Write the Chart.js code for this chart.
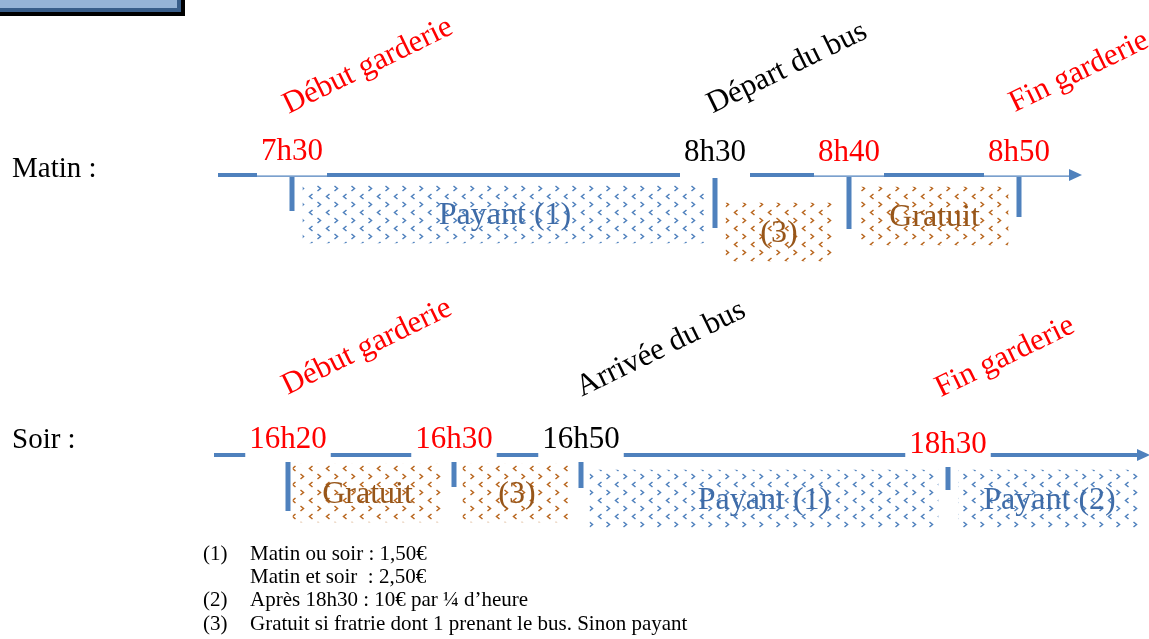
<!DOCTYPE html>
<html>
<head>
<meta charset="utf-8">
<script src="https://cdn.jsdelivr.net/npm/chart.js@4.4.1/dist/chart.umd.min.js"></script>
<style>
  html, body { margin: 0; padding: 0; background: #fff; }
  #cadre { width: 1149px; height: 639px; position: relative; }
</style>
</head>
<body>
<div id="cadre"><canvas id="frise"></canvas></div>
<script>
// Frise schématique : 1 unité sur l'axe horizontal ~ 10 px (non proportionnel au temps)
const lignes = ["Matin :", "Soir :"];

const heuresMatin = ["7h30", "8h30", "8h40", "8h50"];
const reperesMatin = [29.2, 71.5, 84.9, 101.9];
const etendueMatin = [21.8, 108.2];

const heuresSoir = ["16h20", "16h30", "16h50", "18h30"];
const reperesSoir = [28.8, 45.4, 58.1, 94.8];
const etendueSoir = [21.4, 115.0];

// Plages (Payant / Gratuit)
const plagesMatin = ["Payant (1)", "(3)", "Gratuit"];
const debutsMatin = [30.3, 72.6, 86.1];
const finsMatin = [70.7, 83.2, 100.8];
const typesMatin = ["payant", "gratuit", "gratuit"];

const plagesSoir = ["Gratuit", "(3)", "Payant (1)", "Payant (2)"];
const debutsSoir = [29.3, 46.3, 59.0, 95.9];
const finsSoir = [44.2, 57.1, 93.8, 114.0];
const typesSoir = ["gratuit", "gratuit", "payant", "payant"];

// Événements (texte incliné) et repère auquel ils se rattachent
const evenementsMatin = ["Début garderie", "Départ du bus", "Fin garderie"];
const evenementsMatinRepere = [0, 1, 3];
const evenementsSoir = ["Début garderie", "Arrivée du bus", "Fin garderie"];
const evenementsSoirRepere = [0, 2, 3];

const notesNumeros = ["(1)", "", "(2)", "(3)"];
const notesTextes = [
  "Matin ou soir : 1,50€",
  "Matin et soir  : 2,50€",
  "Après 18h30 : 10€ par ¼ d’heure",
  "Gratuit si fratrie dont 1 prenant le bus. Sinon payant"
];

const BLEU = "#4F81BD";
const ROUGE = "#FF0000";
const SERIF = "'Liberation Serif', 'Times New Roman', serif";

function motif(couleur) {
  const c = document.createElement("canvas");
  c.width = 17; c.height = 16;
  const g = c.getContext("2d");
  g.fillStyle = "#fff";
  g.fillRect(0, 0, 17, 16);
  g.strokeStyle = couleur;
  g.lineWidth = 1.5;
  g.beginPath(); g.moveTo(6.5, 2); g.lineTo(3.5, 4.5); g.lineTo(6.5, 7); g.stroke();
  g.beginPath(); g.moveTo(11.5, 10); g.lineTo(14.5, 12.5); g.lineTo(11.5, 15); g.stroke();
  return g.createPattern(c, "repeat");
}
const motifs = { payant: motif(BLEU), gratuit: motif("#B8661E") };
const couleursTexte = { payant: "#3F6CA8", gratuit: "#97561A" };

const donneesMatin = plagesMatin.map((p, i) => ({ x: [debutsMatin[i], finsMatin[i]], y: 1 }));
const donneesSoir = plagesSoir.map((p, i) => ({ x: [debutsSoir[i], finsSoir[i]], y: 2 }));

// styles des deux lignes
const styleLignes = [
  {
    heures: heuresMatin, reperes: reperesMatin, etendue: etendueMatin, plages: plagesMatin, types: typesMatin,
    couleursHeures: [ROUGE, "#000", ROUGE, ROUGE], sousLigne: [true, false, true, true], finFine: true,
    ecartAxe: 39, baseLibelle: 2,
    traits: [[2, 36], [3, 53], [2, 54], [2, 42]], hautTexte: [15, 14, 14, 14],
    evenements: evenementsMatin, evtRepere: evenementsMatinRepere, evtCouleurs: [ROUGE, "#000", ROUGE],
    evtDecal: [[76, -109], [72, -107], [60, -103]], decalages: [0, 18, 2]
  },
  {
    heures: heuresSoir, reperes: reperesSoir, etendue: etendueSoir, plages: plagesSoir, types: typesSoir,
    couleursHeures: [ROUGE, ROUGE, "#000", ROUGE], sousLigne: [false, false, false, false], finFine: false,
    ecartAxe: 41, baseLibelle: -7,
    traits: [[7, 56], [7, 32], [7, 33], [12, 35]], hautTexte: [7, 7, 7, 2],
    evenements: evenementsSoir, evtRepere: evenementsSoirRepere, evtCouleurs: [ROUGE, "#000", ROUGE],
    evtDecal: [[79, -108], [80, -106], [57, -98]], decalages: [-3, -3, 3, 3]
  }
];

const schema = {
  id: "schema",
  afterDatasetsUpdate(chart) {
    // petits décalages verticaux des plages
    chart.data.datasets.forEach((ds, d) => {
      chart.getDatasetMeta(d).data.forEach((el, i) => { el.y += styleLignes[d].decalages[i]; });
    });
  },
  beforeDatasetsDraw(chart) {
    const ctx = chart.ctx;
    const xs = chart.scales.x, ys = chart.scales.y;
    ctx.save();
    // cartouche en haut à gauche
    ctx.fillStyle = "#000"; ctx.fillRect(0, 0, 185, 16);
    ctx.fillStyle = "#385D8A"; ctx.fillRect(0, 0, 181, 12);
    ctx.fillStyle = "#95B3D7"; ctx.fillRect(0, 0, 177, 8);

    styleLignes.forEach((st, r) => {
      const yAxe = ys.getPixelForValue(r + 1) - st.ecartAxe;
      // libellé de ligne
      ctx.font = "29px " + SERIF;
      ctx.fillStyle = "#000";
      ctx.textAlign = "left";
      ctx.textBaseline = "alphabetic";
      ctx.fillText(lignes[r], 12, yAxe + st.baseLibelle);

      // heures et trous dans la ligne
      ctx.font = "31px " + SERIF;
      const trous = st.heures.map((h, i) => {
        const cx = xs.getPixelForValue(st.reperes[i]);
        const w = ctx.measureText(h).width;
        return [cx - w / 2 - 4, cx + w / 2 + 4, cx];
      });
      const x0 = xs.getPixelForValue(st.etendue[0]);
      const x1 = xs.getPixelForValue(st.etendue[1]);
      ctx.strokeStyle = BLEU;
      ctx.lineWidth = 4;
      let debut = x0;
      trous.forEach((t, i) => {
        if (debut !== null) {
          ctx.beginPath(); ctx.moveTo(debut, yAxe); ctx.lineTo(t[0], yAxe); ctx.stroke();
        }
        debut = (st.finFine && i === trous.length - 1) ? null : t[1];
      });
      if (debut !== null) {
        ctx.beginPath(); ctx.moveTo(debut, yAxe); ctx.lineTo(x1 - 10, yAxe); ctx.stroke();
      }
      // traits fins sous les heures rouges du matin
      ctx.lineWidth = 1.3;
      trous.forEach((t, i) => {
        if (!st.sousLigne[i]) return;
        const fin = (st.finFine && i === trous.length - 1) ? x1 - 10 : t[1];
        ctx.beginPath(); ctx.moveTo(t[0], yAxe + 1.2); ctx.lineTo(fin, yAxe + 1.2); ctx.stroke();
      });
      // flèche
      ctx.fillStyle = BLEU;
      ctx.beginPath();
      ctx.moveTo(x1 - 13, yAxe - 6); ctx.lineTo(x1, yAxe); ctx.lineTo(x1 - 13, yAxe + 6);
      ctx.closePath(); ctx.fill();

      // traits verticaux aux repères
      trous.forEach((t, i) => {
        const [a, b] = st.traits[i];
        ctx.fillRect(t[2] - 2.5, yAxe + a, 5, b - a);
      });

      // textes des heures
      ctx.textAlign = "center";
      ctx.textBaseline = "alphabetic";
      trous.forEach((t, i) => {
        ctx.fillStyle = st.couleursHeures[i];
        ctx.fillText(st.heures[i], t[2], yAxe - st.hautTexte[i]);
      });

      // événements inclinés
      ctx.textBaseline = "middle";
      st.evenements.forEach((e, i) => {
        const cx = xs.getPixelForValue(st.reperes[st.evtRepere[i]]) + st.evtDecal[i][0];
        const cy = yAxe + st.evtDecal[i][1];
        ctx.save();
        ctx.translate(cx, cy);
        ctx.rotate(-26 * Math.PI / 180);
        ctx.fillStyle = st.evtCouleurs[i];
        ctx.font = "31px " + SERIF;
        ctx.fillText(e, 0, 0);
        ctx.restore();
      });
    });

    // notes de bas de page
    ctx.font = "21px " + SERIF;
    ctx.fillStyle = "#000";
    ctx.textAlign = "left";
    ctx.textBaseline = "middle";
    notesTextes.forEach((n, i) => {
      const y = 554 + i * 23.4;
      ctx.fillText(notesNumeros[i], 203, y);
      ctx.fillText(n, 250, y);
    });
    ctx.restore();
  },
  afterDatasetsDraw(chart) {
    const ctx = chart.ctx;
    ctx.save();
    ctx.font = "32px " + SERIF;
    ctx.textAlign = "center";
    ctx.textBaseline = "middle";
    styleLignes.forEach((st, d) => {
      chart.getDatasetMeta(d).data.forEach((el, i) => {
        ctx.fillStyle = couleursTexte[st.types[i]];
        ctx.fillText(st.plages[i], (el.x + el.base) / 2, el.y + 2);
      });
    });
    ctx.restore();
  }
};

new Chart(document.getElementById("frise"), {
  type: "bar",
  data: {
    datasets: [
      { label: "Matin", data: donneesMatin, backgroundColor: typesMatin.map((t) => motifs[t]), borderWidth: 0, barThickness: 58 },
      { label: "Soir", data: donneesSoir, backgroundColor: typesSoir.map((t) => motifs[t]), borderWidth: 0, barThickness: 58 }
    ]
  },
  options: {
    indexAxis: "y",
    grouped: false,
    responsive: true,
    maintainAspectRatio: false,
    animation: false,
    layout: { padding: 0 },
    plugins: { legend: { display: false }, tooltip: { enabled: false } },
    scales: {
      x: { type: "linear", min: 0, max: 114.9, display: false },
      y: { type: "linear", min: 0.2411, max: 2.5071, reverse: true, offset: false, display: false }
    }
  },
  plugins: [schema]
});
</script>
</body>
</html>
